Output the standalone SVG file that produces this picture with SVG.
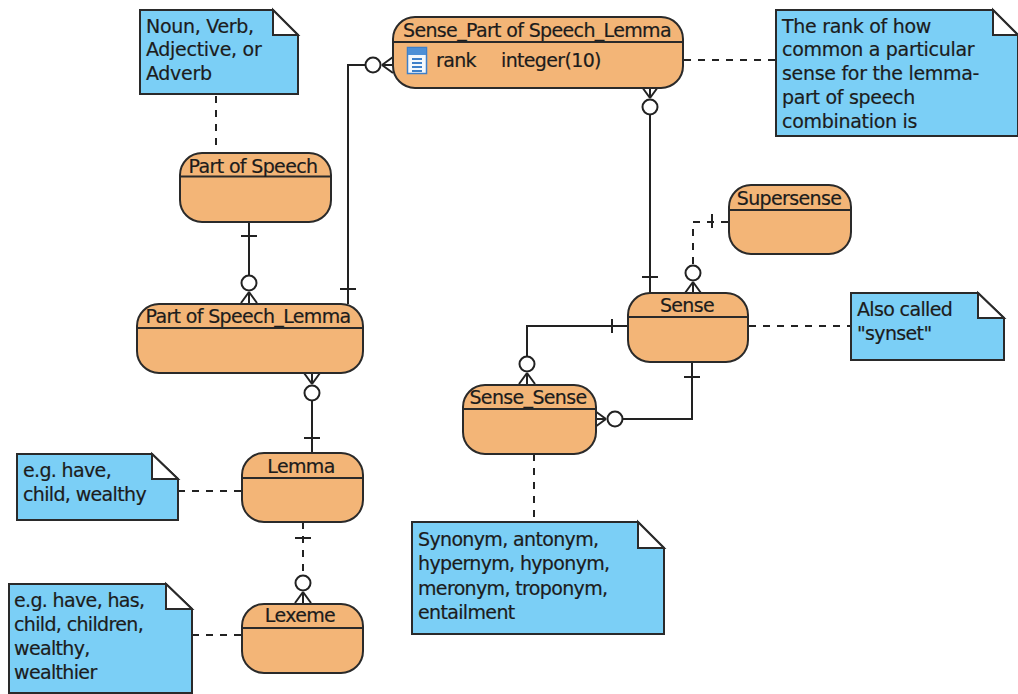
<svg xmlns="http://www.w3.org/2000/svg" width="1018" height="694" viewBox="0 0 1018 694">
<style>
text{font-family:"DejaVu Sans","Liberation Sans",sans-serif;font-size:19px;letter-spacing:-.65px;fill:#1c1c1c;stroke:#1c1c1c;stroke-width:.2px}
#note-rank text,#note-pos text{letter-spacing:-.3px}
.t{text-anchor:middle}
.e{fill:#f3b577;stroke:#2a2a2a;stroke-width:2}
.h{stroke:#2a2a2a;stroke-width:2;fill:none}
.n{fill:#7bcff6;stroke:#2a2a2a;stroke-width:2}
.f{fill:#fff;stroke:#2a2a2a;stroke-width:2}
.c{fill:none;stroke:#222;stroke-width:2}
.d{fill:none;stroke:#222;stroke-width:2;stroke-dasharray:7 7}
.o{fill:#fff;stroke:#222;stroke-width:2}
</style>
<defs>
<g id="many"><path class="c" d="M0 0L-8 11M0 0L8 11M0 0V11"/><circle class="o" cx="0" cy="-9" r="7.500"/></g>
</defs>
<g id="connectors">
<path class="d" d="M216 96V145"/>
<path class="c" d="M249 222V275M241 236H257"/>
<use href="#many" transform="translate(249 292)"/>
<path class="c" d="M348 304V65H366M340 289H356"/>
<use href="#many" transform="translate(382 65) rotate(-90)"/>
<path class="d" d="M684 60H776"/>
<path class="c" d="M650 114V293M642 277H658"/>
<use href="#many" transform="translate(650 98) rotate(180)"/>
<path class="d" d="M693 264V222H729"/>
<path class="c" d="M712 214V228"/>
<use href="#many" transform="translate(693 282)"/>
<path class="c" d="M628 326H527V356M612 319V333"/>
<use href="#many" transform="translate(527 373)"/>
<path class="c" d="M692 362V419H622M684 377H700"/>
<use href="#many" transform="translate(606 419) rotate(90)"/>
<path class="d" d="M749 326H851"/>
<path class="d" d="M534 454V522"/>
<path class="c" d="M312 400V453M304 438H320"/>
<use href="#many" transform="translate(312 384) rotate(180)"/>
<path class="d" d="M178 491H242"/>
<path class="d" d="M303 522V575"/>
<path class="c" d="M295 538H311"/>
<use href="#many" transform="translate(303 592)"/>
<path class="d" d="M192 635H242"/>
</g>
<g id="note-pos"><path class="n" d="M140 10H273L298 35V94H140Z"/><path class="f" d="M273 10L298 35H273Z"/><text x="146" y="33">Noun, Verb,</text><text x="146" y="56">Adjective, or</text><text x="146" y="80">Adverb</text></g>
<g id="part-of-speech"><rect class="e" x="180" y="153" width="151" height="69" rx="22"/><path class="h" d="M180 176.500H331"/><text class="t" x="253" y="173">Part of Speech</text></g>
<g id="sense-pos-lemma"><rect class="e" x="393" y="17" width="290" height="71" rx="22"/><path class="h" d="M393 42H683"/><text class="t" x="537" y="37">Sense_Part of Speech_Lemma</text>
<rect x="407.500" y="47.500" width="19" height="26" fill="#f4f8fc" stroke="#3d7fc9" stroke-width="1.500"/><rect x="408" y="48" width="18" height="7" fill="#4d8fd6"/><path d="M412 59H422M412 63H422M412 67H422M412 71H422" stroke="#3d7fc9" stroke-width="2"/>
<text x="436" y="67">rank</text><text x="501" y="67">integer(10)</text></g>
<g id="note-rank"><path class="n" d="M776 10H993L1018 35V136H776Z"/><path class="f" d="M993 10L1018 35H993Z"/><text x="782" y="33">The rank of how</text><text x="782" y="56">common a particular</text><text x="782" y="80">sense for the lemma-</text><text x="782" y="104">part of speech</text><text x="782" y="128">combination is</text></g>
<g id="supersense"><rect class="e" x="729" y="185" width="122" height="69" rx="22"/><path class="h" d="M729 210H851"/><text class="t" x="789" y="205">Supersense</text></g>
<g id="sense"><rect class="e" x="628" y="293" width="120" height="69" rx="22"/><path class="h" d="M628 317H748"/><text class="t" x="687" y="312">Sense</text></g>
<g id="note-synset"><path class="n" d="M851 293H978L1004 318V360H851Z"/><path class="f" d="M978 293L1004 318H978Z"/><text x="857" y="316">Also called</text><text x="857" y="340">"synset"</text></g>
<g id="sense-sense"><rect class="e" x="463" y="385" width="133" height="69" rx="22"/><path class="h" d="M463 409H596"/><text class="t" x="528" y="404">Sense_Sense</text></g>
<g id="note-relations"><path class="n" d="M412 522H638L664 548V634H412Z"/><path class="f" d="M638 522L664 548H638Z"/><text x="418" y="546">Synonym, antonym,</text><text x="418" y="570">hypernym, hyponym,</text><text x="418" y="595">meronym, troponym,</text><text x="418" y="619">entailment</text></g>
<g id="pos-lemma"><rect class="e" x="137" y="304" width="226" height="69" rx="22"/><path class="h" d="M137 328H363"/><text class="t" x="248" y="323">Part of Speech_Lemma</text></g>
<g id="lemma"><rect class="e" x="242" y="453" width="121" height="69" rx="22"/><path class="h" d="M242 478H363"/><text class="t" x="301" y="473">Lemma</text></g>
<g id="note-lemma"><path class="n" d="M17 454H152L178 479V520H17Z"/><path class="f" d="M152 454L178 479H152Z"/><text x="23" y="477">e.g. have,</text><text x="23" y="501">child, wealthy</text></g>
<g id="lexeme"><rect class="e" x="242" y="604" width="121" height="69" rx="22"/><path class="h" d="M242 628H363"/><text class="t" x="300" y="622">Lexeme</text></g>
<g id="note-lexeme"><path class="n" d="M9 584H166L192 609V693H9Z"/><path class="f" d="M166 584L192 609H166Z"/><text x="14" y="607">e.g. have, has,</text><text x="14" y="631">child, children,</text><text x="14" y="655">wealthy,</text><text x="14" y="679">wealthier</text></g>
</svg>
